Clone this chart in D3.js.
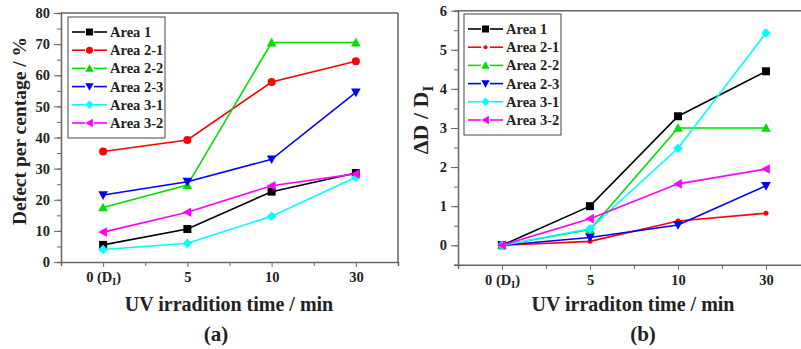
<!DOCTYPE html>
<html lang="en">
<head>
  <meta charset="UTF-8">
  <title>UV irradiation defects</title>
  <script src="https://d3js.org/d3.v7.min.js"></script>
  <style>
    body { margin: 0; background: #fff; }
    text { font-family: "Liberation Serif", "Times New Roman", serif; font-weight: bold; fill: #222; }
  </style>
</head>
<body>
  <svg id="svg" width="801" height="349"></svg>
  <script>
    // categories (UV irradiation time)
    var times = ['0 (D_I)', '5', '10', '30']
    var seriesNames = ['Area 1', 'Area 2-1', 'Area 2-2', 'Area 2-3', 'Area 3-1', 'Area 3-2']
    var colors = ['#000000', '#ff0000', '#00dd00', '#0000ff', '#00ffff', '#ff00ff']
    var symbols = ['square', 'circle', 'up', 'down', 'diamond', 'left']

    // (a) defect percentage / %
    var defectArea1 = [5.5, 10.6, 22.6, 28.6]
    var defectArea21 = [35.5, 39.2, 57.8, 64.5]
    var defectArea22 = [17.5, 24.7, 70.5, 70.5]
    var defectArea23 = [21.5, 25.8, 33.0, 54.5]
    var defectArea31 = [4.0, 6.0, 14.7, 27.2]
    var defectArea32 = [9.6, 16.0, 24.5, 28.3]
    var defectTicks = [0, 10, 20, 30, 40, 50, 60, 70, 80]

    // (b) ΔD / D_I
    var ratioArea1 = [0, 1.0, 3.3, 4.45]
    var ratioArea21 = [0, 0.1, 0.62, 0.82]
    var ratioArea22 = [0, 0.4, 3.0, 3.0]
    var ratioArea23 = [0, 0.2, 0.52, 1.52]
    var ratioArea31 = [0, 0.42, 2.48, 5.43]
    var ratioArea32 = [0, 0.68, 1.57, 1.95]
    var ratioTicks = [0, 1, 2, 3, 4, 5, 6]

    var defectSeries = [defectArea1, defectArea21, defectArea22, defectArea23, defectArea31, defectArea32]
    var ratioSeries = [ratioArea1, ratioArea21, ratioArea22, ratioArea23, ratioArea31, ratioArea32]

    var svg = d3.select('#svg')
    var axisColor = '#666'

    function marker(g, type, x, y, color, s) {
      var p
      if (type === 'square') {
        p = g.append('rect').attr('x', x - s / 2).attr('y', y - s / 2).attr('width', s).attr('height', s)
      } else if (type === 'circle') {
        p = g.append('circle').attr('cx', x).attr('cy', y).attr('r', s / 2)
      } else {
        var h = s * 0.6
        var pts
        if (type === 'up') pts = [[x, y - h], [x + h, y + h * 0.8], [x - h, y + h * 0.8]]
        if (type === 'down') pts = [[x, y + h], [x + h, y - h * 0.8], [x - h, y - h * 0.8]]
        if (type === 'left') pts = [[x - h, y], [x + h * 0.8, y - h], [x + h * 0.8, y + h]]
        if (type === 'diamond') pts = [[x, y - h], [x + h, y], [x, y + h], [x - h, y]]
        p = g.append('polygon').attr('points', pts.map(d => d.join(',')).join(' '))
      }
      p.attr('fill', color)
    }

    function tickLabel(sel, d) {
      if (d === '0 (D_I)') {
        sel.text('0 (D')
        sel.append('tspan').attr('font-size', 10).attr('dy', 3).text('I')
        sel.append('tspan').attr('dy', -3).text(')')
      } else {
        sel.text(d)
      }
    }

    function drawPanel(opt) {
      var g = svg.append('g')
      var x = d3.scaleLinear().domain([-0.5, 3.5]).range([opt.x0, opt.x1])
      var y = d3.scaleLinear().domain(opt.yDomain).range([opt.y0, opt.y1])

      // frame
      g.append('line').attr('x1', opt.x0).attr('x2', opt.x1).attr('y1', opt.y1).attr('y2', opt.y1)
        .attr('stroke', axisColor).attr('stroke-width', 1.5)
      if (opt.rightFrame) {
        g.append('line').attr('x1', opt.x1).attr('x2', opt.x1).attr('y1', opt.y1).attr('y2', opt.y0)
          .attr('stroke', axisColor).attr('stroke-width', 1.5)
      }

      // y axis
      var yMinor = []
      for (var v = opt.yDomain[0]; v <= opt.yDomain[1] + 1e-9; v += opt.minorStep) yMinor.push(v)
      var yAxis = g.append('g').attr('transform', 'translate(' + opt.x0 + ',0)')
        .call(d3.axisLeft(y).tickValues(yMinor).tickSize(4).tickFormat(''))
      yAxis.select('.domain').attr('stroke', axisColor).attr('stroke-width', 1.5)
      yAxis.selectAll('.tick line').attr('stroke', axisColor)
      var yMajor = g.append('g').attr('transform', 'translate(' + opt.x0 + ',0)')
        .call(d3.axisLeft(y).tickValues(opt.yTicks).tickSize(7).tickPadding(4).tickFormat(d3.format('d')))
      yMajor.select('.domain').remove()
      yMajor.selectAll('.tick line').attr('stroke', axisColor)
      yMajor.selectAll('.tick text').attr('font-size', 14.5).attr('font-family', null).attr('fill', '#222')

      // x axis
      var xAxis = g.append('g').attr('transform', 'translate(0,' + opt.y0 + ')')
        .call(d3.axisBottom(x).tickValues([-0.5, 0.5, 1.5, 2.5, 3.5]).tickSize(4).tickFormat(''))
      xAxis.select('.domain').attr('stroke', axisColor).attr('stroke-width', 1.5)
      xAxis.selectAll('.tick line').attr('stroke', axisColor)
      var xMajor = g.append('g').attr('transform', 'translate(0,' + opt.y0 + ')')
        .call(d3.axisBottom(x).tickValues(d3.range(times.length)).tickSize(5).tickPadding(5)
          .tickFormat(i => times[i]))
      xMajor.select('.domain').remove()
      xMajor.selectAll('.tick line').attr('stroke', axisColor)
      xMajor.selectAll('.tick text').attr('font-size', 14.5).attr('font-family', null).attr('fill', '#222')
        .each(function (d) { tickLabel(d3.select(this), times[d]) })

      // series
      var line = d3.line().x((d, i) => x(i)).y(d => y(d))
      opt.series.forEach((s, k) => {
        g.append('path').datum(s).attr('d', line).attr('fill', 'none')
          .attr('stroke', colors[k]).attr('stroke-width', 1.6)
      })
      opt.series.forEach((s, k) => {
        s.forEach((d, i) => {
          var sz = symbols[k] === 'circle' ? opt.circleSize : 8
          marker(g, symbols[k], x(i), y(d), colors[k], sz)
        })
      })

      // legend
      var lg = g.append('g')
      lg.append('rect').attr('x', opt.legX).attr('y', opt.legY).attr('width', 97).attr('height', 121)
        .attr('fill', '#fff').attr('stroke', '#444').attr('stroke-width', 1)
      seriesNames.forEach((n, k) => {
        var ly = opt.legY + 15 + k * 18.2
        ;[[4, 17], [26, 39]].forEach(seg => {
          lg.append('line').attr('x1', opt.legX + seg[0]).attr('x2', opt.legX + seg[1]).attr('y1', ly).attr('y2', ly)
            .attr('stroke', colors[k]).attr('stroke-width', 1.6)
        })
        var sz = symbols[k] === 'circle' ? opt.circleSize - 1 : 7
        marker(lg, symbols[k], opt.legX + 21.5, ly, colors[k], sz)
        lg.append('text').attr('x', opt.legX + 42).attr('y', ly + 5).attr('font-size', 14.5).text(n)
      })

      // titles
      g.append('text').attr('x', opt.xTitleX).attr('y', 311).attr('text-anchor', 'middle')
        .attr('font-size', 20).text(opt.xTitle)
      g.append('text').attr('x', opt.labelX).attr('y', 341).attr('text-anchor', 'middle')
        .attr('font-size', 21).text(opt.label)
      return g
    }

    var ga = drawPanel({
      x0: 61, x1: 398, y0: 262, y1: 13, yDomain: [0, 80], yTicks: defectTicks, minorStep: 5,
      series: defectSeries, rightFrame: true, circleSize: 8,
      legX: 68, legY: 17, xTitle: 'UV irradition time / min', xTitleX: 229, label: '(a)', labelX: 216
    })
    ga.append('text').attr('transform', 'translate(26,131) rotate(-90)').attr('text-anchor', 'middle')
      .attr('font-size', 19.5).text('Defect per centage / %')

    var gb = drawPanel({
      x0: 458, x1: 810, y0: 264.8, y1: 10.7, yDomain: [-0.5, 6], yTicks: ratioTicks, minorStep: 0.5,
      series: ratioSeries, rightFrame: false, circleSize: 5,
      legX: 464, legY: 14, xTitle: 'UV irraditon time / min', xTitleX: 633, label: '(b)', labelX: 643
    })
    var yt = gb.append('text').attr('transform', 'translate(428,120) rotate(-90)').attr('text-anchor', 'middle')
      .attr('font-size', 22).text('\u0394D / D')
    yt.append('tspan').attr('font-size', 15).attr('dy', 5).text('I')
  </script>
</body>
</html>
